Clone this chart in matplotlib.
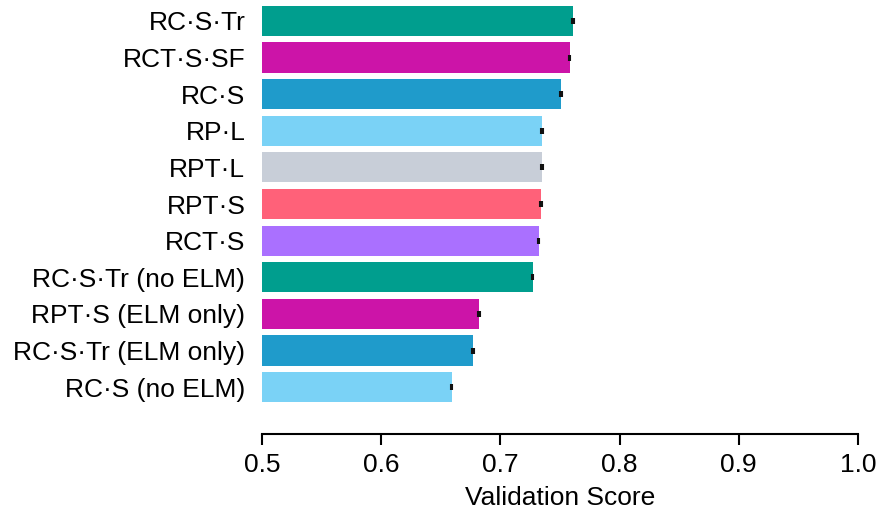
import numpy as np
import matplotlib
matplotlib.use("Agg")
import matplotlib.pyplot as plt

plt.rcParams['font.family'] = ['Liberation Sans', 'DejaVu Sans']

models = ["RC·S·Tr", "RCT·S·SF", "RC·S", "RP·L", "RPT·L", "RPT·S", "RCT·S",
          "RC·S·Tr (no ELM)", "RPT·S (ELM only)", "RC·S·Tr (ELM only)", "RC·S (no ELM)"]
scores = [0.761, 0.758, 0.751, 0.735, 0.735, 0.734, 0.732, 0.727, 0.682, 0.677, 0.659]
errors = [0.0006, 0.0006, 0.0006, 0.0006, 0.0006, 0.0006, 0.0006, 0.0006, 0.0006, 0.0006, 0.0006]
palette = ["#009E8E", "#CC14A8", "#1F9BCB", "#7AD2F6", "#C8CED8", "#FF6179", "#AA70FF"]
xticks = [0.5, 0.6, 0.7, 0.8, 0.9, 1.0]

colors = [palette[i % len(palette)] for i in range(len(models))]
y = np.arange(len(models))

fig = plt.figure(figsize=(8.8, 5.12), dpi=100)
ax = fig.add_axes([0.2977, 0.1523, 0.6773, 0.8477])

ax.barh(y, scores, height=0.82, color=colors)
ax.errorbar(scores, y, xerr=errors, fmt='none', ecolor='#111111',
            elinewidth=1.5, capsize=2, capthick=1.5)

ax.set_xlim(0.5, 1.0)
ax.set_ylim(11.28, -0.57)
ax.set_yticks(y)
ax.set_yticklabels(models, fontsize=19)
ax.set_xticks(xticks)
ax.set_xticklabels([f"{v:.1f}" for v in xticks], fontsize=19)
ax.tick_params(axis='y', length=0, pad=12)
ax.tick_params(axis='x', length=8, width=1.5, pad=6)
ax.set_xlabel("Validation Score", fontsize=19, labelpad=6)

for s in ['top', 'right', 'left']:
    ax.spines[s].set_visible(False)
ax.spines['bottom'].set_linewidth(1.5)

fig.savefig("out.png", dpi=100)
